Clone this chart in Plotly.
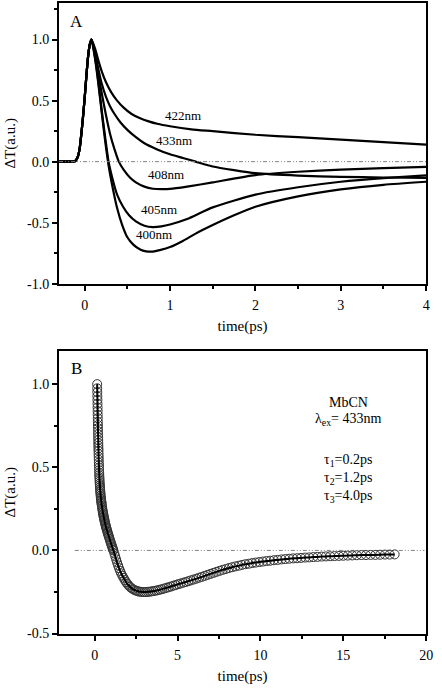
import plotly.graph_objects as go

# ---------------- Panel A data (time in ps, normalised dT) ----------------
rise_t = [-0.30, -0.15, -0.11, -0.08, -0.06, -0.04, -0.02, 0.00, 0.02, 0.04, 0.06, 0.08]
rise_v = [0.0, 0.0, 0.005, 0.04, 0.10, 0.22, 0.36, 0.52, 0.70, 0.86, 0.96, 1.00]

t422 = [0.12, 0.16, 0.20, 0.25, 0.31, 0.38, 0.46, 0.55, 0.65, 0.75, 0.85, 1.0, 1.25, 1.5, 2.0, 2.5, 3.0, 3.5, 4.0]
v422 = [0.93, 0.83, 0.74, 0.65, 0.57, 0.50, 0.44, 0.39, 0.355, 0.33, 0.31, 0.29, 0.265, 0.25, 0.22, 0.20, 0.18, 0.16, 0.14]

t433 = [0.12, 0.16, 0.20, 0.25, 0.30, 0.35, 0.42, 0.50, 0.60, 0.70, 0.85, 1.0, 1.15, 1.3, 1.5, 1.75, 2.0, 2.5, 3.0, 3.5, 4.0]
v433 = [0.90, 0.76, 0.64, 0.53, 0.45, 0.39, 0.32, 0.26, 0.20, 0.15, 0.10, 0.06, 0.03, 0.0, -0.04, -0.07, -0.095, -0.115, -0.125, -0.13, -0.133]

t408 = [0.12, 0.16, 0.20, 0.25, 0.30, 0.35, 0.40, 0.46, 0.53, 0.60, 0.70, 0.80, 0.90, 1.0, 1.2, 1.5, 2.0, 2.5, 3.0, 3.5, 4.0]
v408 = [0.88, 0.72, 0.56, 0.38, 0.22, 0.10, 0.0, -0.07, -0.13, -0.17, -0.205, -0.222, -0.226, -0.224, -0.205, -0.17, -0.11, -0.083, -0.065, -0.053, -0.043]

t405 = [0.12, 0.16, 0.20, 0.24, 0.28, 0.33, 0.38, 0.45, 0.52, 0.60, 0.70, 0.80, 0.90, 1.0, 1.2, 1.5, 2.0, 2.5, 3.0, 3.5, 4.0]
v405 = [0.86, 0.66, 0.42, 0.20, 0.0, -0.15, -0.27, -0.37, -0.44, -0.49, -0.525, -0.536, -0.53, -0.515, -0.47, -0.375, -0.27, -0.21, -0.165, -0.135, -0.113]

t400 = [0.12, 0.16, 0.20, 0.24, 0.28, 0.33, 0.38, 0.44, 0.50, 0.57, 0.65, 0.72, 0.80, 0.88, 1.0, 1.15, 1.3, 1.5, 1.75, 2.0, 2.5, 3.0, 3.5, 4.0]
v400 = [0.85, 0.64, 0.40, 0.17, -0.03, -0.22, -0.38, -0.52, -0.62, -0.68, -0.72, -0.735, -0.737, -0.725, -0.70, -0.65, -0.59, -0.52, -0.44, -0.37, -0.285, -0.228, -0.19, -0.165]

labels_A = ["422nm", "433nm", "408nm", "405nm", "400nm"]
label_x_A = [1.155, 1.045, 0.95, 0.875, 0.81]
label_y_A = [0.38, 0.173, -0.103, -0.39, -0.595]

# ---------------- Panel B data (MbCN, lambda_ex = 433 nm) ----------------
tB = [0.150, 0.154, 0.158, 0.162, 0.166, 0.170, 0.174, 0.178, 0.182, 0.186, 0.190, 0.194, 0.198,
      0.202, 0.206, 0.210, 0.214, 0.218, 0.222, 0.226, 0.230, 0.235, 0.240, 0.245, 0.250, 0.255,
      0.260, 0.266, 0.272, 0.278, 0.284, 0.290, 0.297, 0.304, 0.311, 0.318, 0.326, 0.334, 0.342,
      0.350, 0.36, 0.37, 0.38, 0.39, 0.40, 0.41, 0.42, 0.435, 0.45, 0.465, 0.48, 0.495, 0.51,
      0.525, 0.54, 0.555, 0.57, 0.585, 0.60, 0.62, 0.64, 0.66, 0.68, 0.70, 0.72, 0.745, 0.77,
      0.795, 0.82, 0.845, 0.87, 0.90, 0.93, 0.96, 0.99, 1.02, 1.05, 1.08, 1.11, 1.13,
      1.185, 1.24, 1.295, 1.35, 1.41, 1.47, 1.535,
      1.60, 1.67, 1.74, 1.815, 1.89, 1.97, 2.05, 2.135, 2.22, 2.31, 2.40, 2.495, 2.59, 2.69,
      2.79, 2.895, 3.00, 3.11, 3.22, 3.335, 3.45, 3.57, 3.69, 3.815, 3.94, 4.07, 4.20, 4.335,
      4.47, 4.61, 4.75, 4.895, 5.04, 5.19, 5.34, 5.495, 5.65, 5.81, 5.97, 6.135, 6.30, 6.47,
      6.64, 6.815, 6.99, 7.17, 7.35, 7.535, 7.72, 7.91, 8.10, 8.295, 8.49, 8.69, 8.89, 9.095,
      9.30, 9.51, 9.72, 9.935, 10.15, 10.37, 10.59, 10.815, 11.04, 11.27, 11.50, 11.735,
      11.97, 12.21, 12.45, 12.695, 12.94, 13.19, 13.44, 13.695, 13.95, 14.21, 14.47, 14.735,
      15.00, 15.27, 15.54, 15.815, 16.09, 16.37, 16.65, 16.935, 17.22, 17.51, 17.80, 18.10]
vB = [1.00, 0.975, 0.952, 0.928, 0.905, 0.882, 0.86, 0.838, 0.816, 0.795, 0.774, 0.754, 0.735,
      0.716, 0.698, 0.68, 0.663, 0.646, 0.63, 0.614, 0.599, 0.58, 0.562, 0.545, 0.528, 0.513,
      0.498, 0.482, 0.467, 0.453, 0.44, 0.428, 0.415, 0.403, 0.392, 0.381, 0.37, 0.36, 0.35,
      0.341, 0.33, 0.32, 0.311, 0.302, 0.294, 0.286, 0.278, 0.267, 0.257, 0.247, 0.238, 0.229, 0.221,
      0.213, 0.205, 0.198, 0.19, 0.183, 0.176, 0.167, 0.159, 0.151, 0.143, 0.136, 0.129, 0.12, 0.112,
      0.103, 0.095, 0.087, 0.079, 0.069, 0.06, 0.05, 0.041, 0.032, 0.023, 0.014, 0.005, 0.0,
      -0.018, -0.036, -0.054, -0.072, -0.09, -0.107, -0.123,
      -0.138, -0.152, -0.165, -0.178, -0.19, -0.201, -0.211, -0.22, -0.227, -0.233, -0.238, -0.242, -0.245, -0.248,
      -0.249, -0.25, -0.25, -0.25, -0.249, -0.248, -0.246, -0.244, -0.242, -0.239, -0.236, -0.233, -0.229, -0.225,
      -0.221, -0.217, -0.212, -0.208, -0.203, -0.199, -0.194, -0.19, -0.185, -0.18, -0.175, -0.17, -0.164, -0.159,
      -0.153, -0.147, -0.141, -0.135, -0.129, -0.123, -0.117, -0.112, -0.106, -0.101, -0.096, -0.092, -0.087, -0.083,
      -0.08, -0.076, -0.073, -0.07, -0.067, -0.064, -0.062, -0.059, -0.057, -0.054, -0.052, -0.05,
      -0.048, -0.047, -0.045, -0.043, -0.042, -0.04, -0.039, -0.037, -0.036, -0.035, -0.034, -0.033,
      -0.032, -0.031, -0.03, -0.029, -0.028, -0.028, -0.027, -0.027, -0.026, -0.025, -0.025, -0.024]

zero_A_x = [-0.3, 4.0]
zero_B_x = [-1.2, 19.9]
zero_y = [0.0, 0.0]

ticks_yA = [-1.0, -0.5, 0.0, 0.5, 1.0]
ticktext_yA = ["-1.0", "-0.5", "0.0", "0.5", "1.0"]
ticks_xA = [0, 1, 2, 3, 4]
ticks_yB = [-0.5, 0.0, 0.5, 1.0]
ticktext_yB = ["-0.5", "0.0", "0.5", "1.0"]
ticks_xB = [0, 5, 10, 15, 20]

FONT = "Liberation Serif"

fig = go.Figure()

curvesA = [(t422, v422), (t433, v433), (t408, v408), (t405, v405), (t400, v400)]
for tt, vv in curvesA:
    fig.add_trace(go.Scatter(x=rise_t + tt, y=rise_v + vv, mode="lines",
                             line=dict(color="black", width=2.2, shape="spline", smoothing=0.6),
                             xaxis="x", yaxis="y", showlegend=False, hoverinfo="skip"))

fig.add_trace(go.Scatter(x=zero_A_x, y=zero_y, mode="lines",
                         line=dict(color="#808080", width=1, dash="4px,2px,1px,2px,1px,2px"),
                         xaxis="x", yaxis="y", showlegend=False))

# Panel B
fig.add_trace(go.Scatter(x=zero_B_x, y=zero_y, mode="lines",
                         line=dict(color="#808080", width=1, dash="4px,2px,1px,2px,1px,2px"),
                         xaxis="x2", yaxis="y2", showlegend=False))
fig.add_trace(go.Scatter(x=tB, y=vB, mode="markers",
                         marker=dict(symbol="circle-open", size=9, color="#333333", line=dict(width=1)),
                         xaxis="x2", yaxis="y2", showlegend=False))
fig.add_trace(go.Scatter(x=tB, y=vB, mode="lines",
                         line=dict(color="black", width=2, shape="spline", smoothing=0.5),
                         xaxis="x2", yaxis="y2", showlegend=False))

axis_common = dict(showline=True, linecolor="black", linewidth=2, mirror=True,
                   ticks="outside", ticklen=5, tickwidth=1.5, tickcolor="black",
                   showgrid=False, zeroline=False,
                   tickfont=dict(family=FONT, size=14, color="black"),
                   title_font=dict(family=FONT, size=15, color="black"))

xdom = [60 / 442, 433 / 442]
fig.update_layout(
    width=442, height=689,
    margin=dict(l=0, r=0, t=0, b=0),
    paper_bgcolor="white", plot_bgcolor="white",
    font=dict(family=FONT, color="black"),
    xaxis=dict(domain=xdom, anchor="y", range=[-0.3, 4.0], tickvals=ticks_xA, ticklabelstandoff=3,
               minor=dict(dtick=0.5, ticks="outside", ticklen=3, tickwidth=1.5, tickcolor="black"),
               title=dict(text="time(ps)", standoff=8), **axis_common),
    yaxis=dict(domain=[1 - 287 / 689, 1 - 3 / 689], anchor="x", range=[-1.0, 1.3],
               tickvals=ticks_yA, ticktext=ticktext_yA,
               minor=dict(dtick=0.25, ticks="outside", ticklen=3, tickwidth=1.5, tickcolor="black"),
               title=dict(text="ΔT(a.u.)", standoff=8), **axis_common),
    xaxis2=dict(domain=xdom, anchor="y2", range=[-2.15, 20.0], tickvals=ticks_xB, ticklabelstandoff=3,
                minor=dict(dtick=2.5, ticks="outside", ticklen=3, tickwidth=1.5, tickcolor="black"),
                title=dict(text="time(ps)", standoff=8), **axis_common),
    yaxis2=dict(domain=[1 - 641 / 689, 1 - 355 / 689], anchor="x2", range=[-0.5, 1.2],
                tickvals=ticks_yB, ticktext=ticktext_yB,
                minor=dict(dtick=0.25, ticks="outside", ticklen=3, tickwidth=1.5, tickcolor="black"),
                title=dict(text="ΔT(a.u.)", standoff=8), **axis_common),
)

annotations = []
for txt, xx, yy in zip(labels_A, label_x_A, label_y_A):
    annotations.append(dict(text=txt, x=xx, y=yy, xref="x", yref="y", showarrow=False,
                            font=dict(family=FONT, size=13, color="black")))
annotations.append(dict(text="A", x=78 / 442, y=1 - 22 / 689, xref="paper", yref="paper",
                        xanchor="center", yanchor="middle",
                        showarrow=False, font=dict(family=FONT, size=17, color="black")))
annotations.append(dict(text="B", x=78 / 442, y=1 - 373 / 689, xref="paper", yref="paper",
                        xanchor="center", yanchor="middle",
                        showarrow=False, font=dict(family=FONT, size=17, color="black")))
info_texts = ["MbCN", "λ<sub>ex</sub>= 433nm", "τ<sub>1</sub>=0.2ps", "τ<sub>2</sub>=1.2ps", "τ<sub>3</sub>=4.0ps"]
info_y = [0.892, 0.787, 0.542, 0.434, 0.326]
for txt, yy in zip(info_texts, info_y):
    annotations.append(dict(text=txt, x=15.3, y=yy, xref="x2", yref="y2", showarrow=False,
                            font=dict(family=FONT, size=14, color="black")))
fig.update_layout(annotations=annotations)

fig.write_html("out.html", config={"displayModeBar": False},
               post_script="document.body.style.margin='0px';document.body.style.overflow='hidden';")
